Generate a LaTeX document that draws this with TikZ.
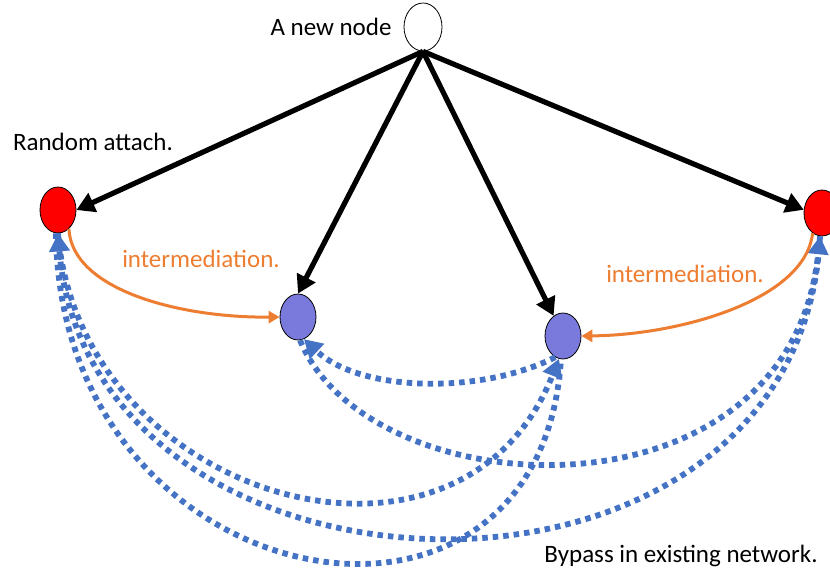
\documentclass[tikz,border=0pt]{standalone}
\usepackage{fontspec}
\setmainfont{Carlito}
\usetikzlibrary{shapes.geometric,arrows.meta}
\definecolor{nodeblue}{RGB}{122,122,220}
\definecolor{linkblue}{RGB}{68,114,196}
\definecolor{midorange}{RGB}{237,125,49}

\begin{document}
\begin{tikzpicture}[x=1pt,y=-1pt,
peer/.style={
	draw,
	ellipse,
	line width=0.8pt,
	minimum width=36pt,
	minimum height=46pt,
	inner sep=0pt
},
attach/.style={
	line width=5.2pt,
	-{Triangle[length=18pt,width=20pt]}
},
interm/.style={
	midorange,
	line width=3pt,
	-{Triangle[length=11pt,width=12pt]}
},
bypass/.style={
	linkblue,
	line width=5.8pt,
	dash pattern=on 5.5pt off 5pt
},
bytip/.style={
	-{Triangle[length=18pt,width=20pt]}
},
lab/.style={
	font=\fontsize{25}{30}\selectfont,
	inner sep=0pt,
	anchor=base
}
]

\useasboundingbox (0,0) rectangle (830,572);

\node[peer, fill=white, minimum width=38pt, minimum height=48pt] 
(n) at (423,27) {};
\node[peer, fill=red] 
(a1) at (58,210) {};
\node[peer, fill=red] 
(a2) at (822,213) {};
\node[peer, fill=nodeblue] 
(b1) at (298,317) {};
\node[peer, fill=nodeblue] 
(b2) at (563,336) {};

\node[lab] (newlab) at (331,36) {A new node};
\node[lab] (randlab) at (93,151) {Random attach.};
\node[lab, text=midorange] (intl) at (201,267) {intermediation.};
\node[lab, text=midorange] (intr) at (685,282) {intermediation.};
\node[lab] (bylab) at (681,562) {Bypass in existing network.};

\draw[bypass,bytip] (b2.-110) .. controls (480,395) and (360,392) .. (b1.-75);
\draw[bypass,bytip] (b1.-85) .. controls (370,510) and (790,530) .. (a2.-95);
\draw[bypass,bytip] (a1.-90) .. controls (80,500) and (460,610) .. (b2.-100);
\draw[bypass,bytip] (a2.-95) .. controls (800,648) and (90,628) .. (a1.-90);
\draw[bypass] (a1.-95) .. controls (60,600) and (540,690) .. (b2.-95);

\draw[interm] (a1.-60) .. controls (72,290) and (180,318) .. (b1.west);
\draw[interm] (a2.-115) .. controls (805,300) and (680,335) .. (b2.east);

\draw[attach] (n.south) -- (a1.east);
\draw[attach] (n.south) -- (b1.north);
\draw[attach] (n.south) -- (b2.115);
\draw[attach] (n.south) -- (a2.170);

\end{tikzpicture}
\end{document}
